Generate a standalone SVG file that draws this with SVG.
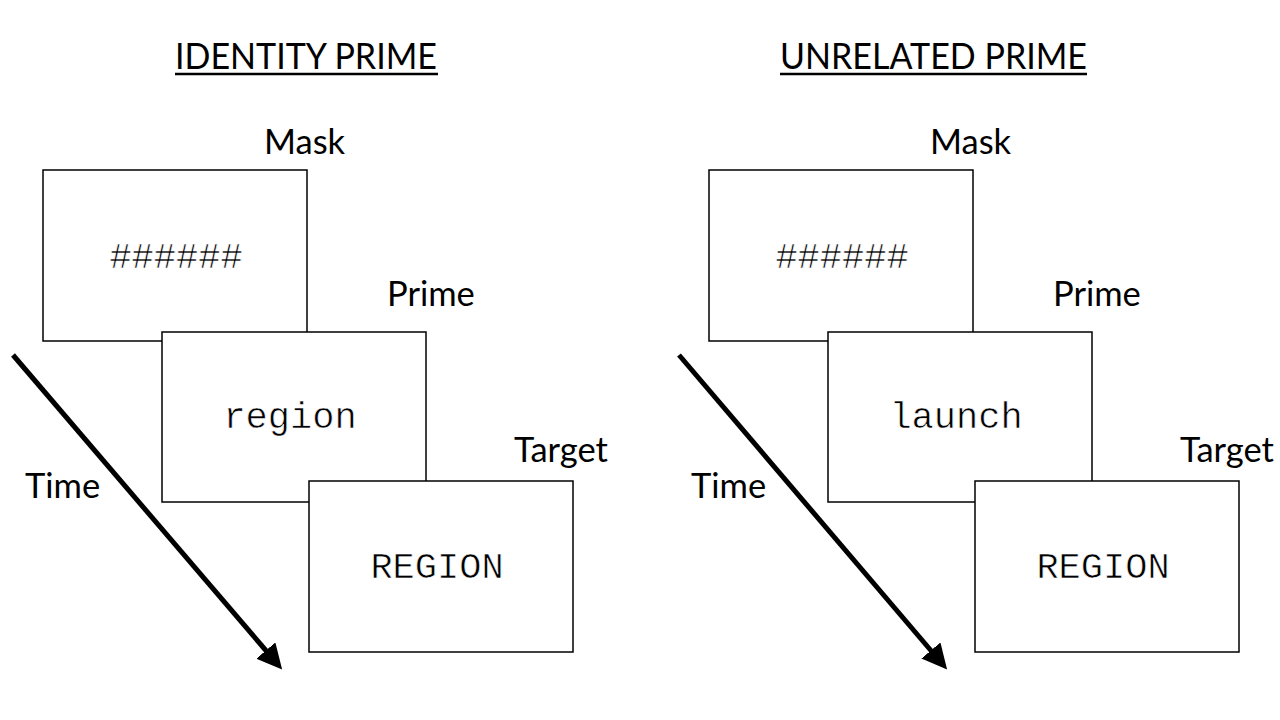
<svg xmlns="http://www.w3.org/2000/svg" width="1280" height="720" viewBox="0 0 1280 720">
<style>
.box{fill:#fff;stroke:#000;stroke-width:1.5}
.lbl{font-family:Lato,"Open Sans",sans-serif;font-size:34.5px;fill:#000}
.ttl{font-family:Lato,"Open Sans",sans-serif;font-size:36px;fill:#000}
.mono{font-family:"Liberation Mono",monospace;font-size:37px;fill:#000;text-anchor:middle;stroke:#fff;stroke-width:0.6;paint-order:normal}
.arr{stroke:#000;stroke-width:5;fill:none}
</style>
<defs>
<marker id="ah" markerWidth="5" markerHeight="5" refX="2.5" refY="2.5" orient="auto" markerUnits="strokeWidth" viewBox="0 0 5 5">
<path d="M0,0 L5,2.5 L0,5 z" fill="#000"/>
</marker>
</defs>
<g id="title-left"><text class="ttl" x="175" y="69" textLength="262" lengthAdjust="spacingAndGlyphs">IDENTITY PRIME</text><line x1="175" y1="74" x2="438" y2="74" stroke="#000" stroke-width="2.5"/></g>
<g id="title-right"><text class="ttl" x="780" y="69" textLength="307" lengthAdjust="spacingAndGlyphs">UNRELATED PRIME</text><line x1="780" y1="74" x2="1087" y2="74" stroke="#000" stroke-width="2.5"/></g>
<g id="connectors">
<line class="arr" x1="13" y1="355" x2="274" y2="660" marker-end="url(#ah)"/>
<line class="arr" x1="679" y1="355" x2="939" y2="660" marker-end="url(#ah)"/>
</g>
<g id="mask-left"><rect class="box" x="43" y="170" width="264" height="171"/><text class="mono" x="176" y="268">######</text><text class="lbl" x="264" y="154">Mask</text></g>
<g id="prime-left"><rect class="box" x="162" y="332" width="264" height="170"/><text class="mono" x="290" y="428">region</text><text class="lbl" x="387" y="306">Prime</text></g>
<g id="target-left"><rect class="box" x="309" y="481" width="264" height="171"/><text class="mono" x="437" y="578">REGION</text><text class="lbl" x="514" y="462">Target</text></g>
<g id="time-left"><text class="lbl" x="25" y="498">Time</text></g>
<g id="mask-right"><rect class="box" x="709" y="170" width="264" height="171"/><text class="mono" x="842" y="268">######</text><text class="lbl" x="930" y="154">Mask</text></g>
<g id="prime-right"><rect class="box" x="828" y="332" width="264" height="170"/><text class="mono" x="956" y="428">launch</text><text class="lbl" x="1053" y="306">Prime</text></g>
<g id="target-right"><rect class="box" x="975" y="481" width="264" height="171"/><text class="mono" x="1103" y="578">REGION</text><text class="lbl" x="1180" y="462">Target</text></g>
<g id="time-right"><text class="lbl" x="691" y="498">Time</text></g>
</svg>
